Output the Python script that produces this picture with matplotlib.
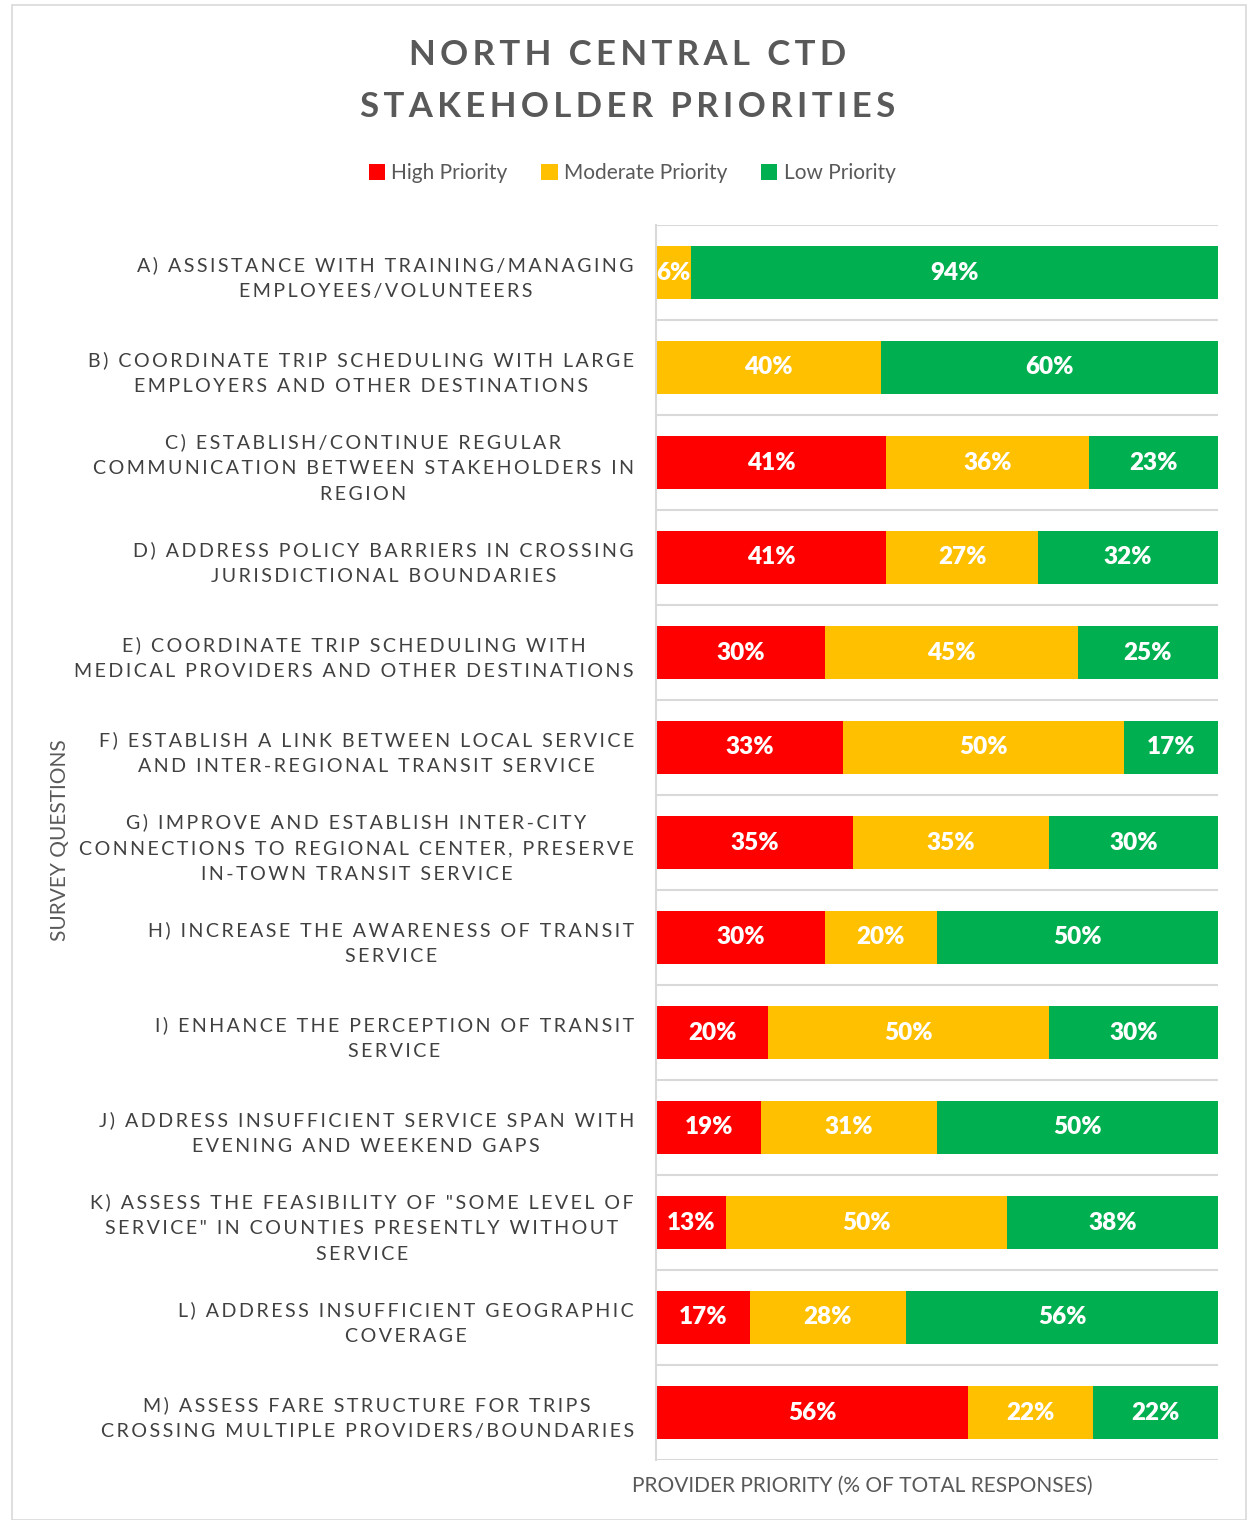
import matplotlib.pyplot as plt
import numpy as np
from matplotlib.patches import Rectangle

plt.rcParams['font.family'] = ['Lato', 'DejaVu Sans']

questions = [
    "A) ASSISTANCE WITH TRAINING/MANAGING\nEMPLOYEES/VOLUNTEERS",
    "B) COORDINATE TRIP SCHEDULING WITH LARGE\nEMPLOYERS AND OTHER DESTINATIONS",
    "C) ESTABLISH/CONTINUE REGULAR\nCOMMUNICATION BETWEEN STAKEHOLDERS IN\nREGION",
    "D) ADDRESS POLICY BARRIERS IN CROSSING\nJURISDICTIONAL BOUNDARIES",
    "E) COORDINATE TRIP SCHEDULING WITH\nMEDICAL PROVIDERS AND OTHER DESTINATIONS",
    "F) ESTABLISH A LINK BETWEEN LOCAL SERVICE\nAND INTER-REGIONAL TRANSIT SERVICE",
    "G) IMPROVE AND ESTABLISH INTER-CITY\nCONNECTIONS TO REGIONAL CENTER, PRESERVE\nIN-TOWN TRANSIT SERVICE",
    "H) INCREASE THE AWARENESS OF TRANSIT\nSERVICE",
    "I) ENHANCE THE PERCEPTION OF TRANSIT\nSERVICE",
    "J) ADDRESS INSUFFICIENT SERVICE SPAN WITH\nEVENING AND WEEKEND GAPS",
    "K) ASSESS THE FEASIBILITY OF \"SOME LEVEL OF\nSERVICE\" IN COUNTIES PRESENTLY WITHOUT\nSERVICE",
    "L) ADDRESS INSUFFICIENT GEOGRAPHIC\nCOVERAGE",
    "M) ASSESS FARE STRUCTURE FOR TRIPS\nCROSSING MULTIPLE PROVIDERS/BOUNDARIES",
]
high = [0, 0, 41, 41, 30, 33.3, 35, 30, 20, 18.75, 12.5, 16.7, 55.6]
moderate = [6.25, 40, 36, 27, 45, 50, 35, 20, 50, 31.25, 50, 27.8, 22.2]
low = [93.75, 60, 23, 32, 25, 16.7, 30, 50, 30, 50, 37.5, 55.5, 22.2]

series = [("High Priority", high, "#FF0000"),
          ("Moderate Priority", moderate, "#FFC000"),
          ("Low Priority", low, "#00B050")]


def spaced(s, sep="\u2009"):
    return "\n".join(sep.join(line) for line in s.split("\n"))


fig = plt.figure(figsize=(12.48, 15.2), dpi=100)
fig.patches.append(Rectangle((12 / 1248, 0), 1234 / 1248, 1 - 5 / 1520, transform=fig.transFigure,
                             fill=False, edgecolor="#D9D9D9", linewidth=1.2))

ax = fig.add_axes([656 / 1248, 1 - 1460 / 1520, 562 / 1248, 1235 / 1520])

y = np.arange(len(questions))
left = np.zeros(len(questions))
for name, vals, color in series:
    vals = np.array(vals, dtype=float)
    ax.barh(y, vals, left=left, height=0.56, color=color, label=name)
    for yi, (l, v) in enumerate(zip(left, vals)):
        if v > 0:
            ax.text(l + v / 2, yi, "%d%%" % int(v + 0.5), ha="center", va="center",
                    color="white", fontsize=17.5, fontweight="heavy")
    left += vals

ax.set_xlim(0, 100)
ax.set_ylim(len(questions) - 0.5, -0.5)
ax.set_yticks(y)
ax.set_yticklabels([spaced(q) for q in questions], fontsize=14.1, color="#404040",
                   linespacing=1.62)
for lab in ax.get_yticklabels():
    lab.set_multialignment("center")
ax.tick_params(axis="y", length=0, pad=16)
ax.set_xticks([])
for b in np.arange(-0.5, len(questions), 1):
    ax.axhline(b, color="#D9D9D9", linewidth=1.5, zorder=0)
for s in ["top", "right", "bottom"]:
    ax.spines[s].set_visible(False)
ax.spines["left"].set_color("#D9D9D9")
ax.spines["left"].set_linewidth(1.5)

fig.text(628 / 1248, 1 - 55 / 1520, spaced("NORTH CENTRAL CTD"), ha="center", va="center",
         fontsize=25, fontweight="bold", color="#595959")
fig.text(628 / 1248, 1 - 107 / 1520, spaced("STAKEHOLDER PRIORITIES"), ha="center", va="center",
         fontsize=25, fontweight="bold", color="#595959")

ax.legend(loc="center", bbox_to_anchor=(632 / 1248, 1 - 173 / 1520), bbox_transform=fig.transFigure,
          ncol=3, frameon=False, fontsize=15, handlelength=0.8, handleheight=0.8,
          handletextpad=0.3, columnspacing=1.6, labelcolor="#595959")

fig.text(862 / 1248, 1 - 1486 / 1520, "PROVIDER PRIORITY (% OF TOTAL RESPONSES)", ha="center", va="center",
         fontsize=15, color="#595959")
fig.text(60 / 1248, 1 - 840 / 1520, "SURVEY QUESTIONS", ha="center", va="center", rotation=90,
         fontsize=15, color="#595959")

fig.savefig("out.png", dpi=100)
